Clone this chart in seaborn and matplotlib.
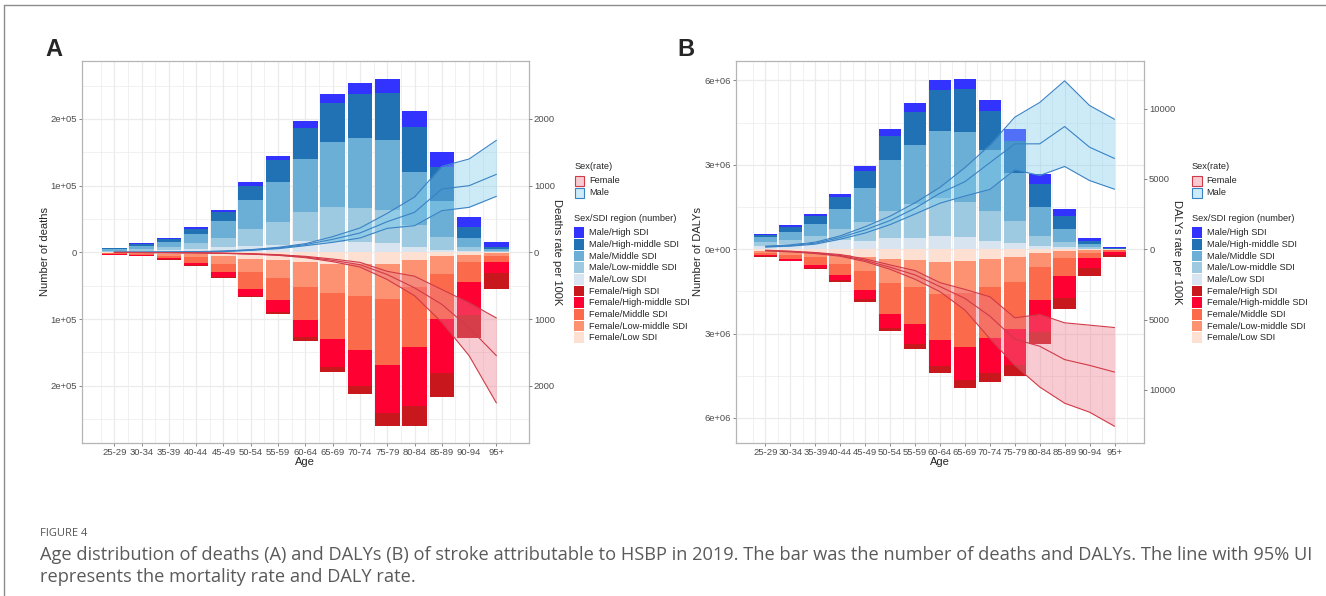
import matplotlib
matplotlib.use("Agg")
import numpy as np
import matplotlib.pyplot as plt
from matplotlib import font_manager
from matplotlib.colors import to_rgb
from matplotlib.patches import Rectangle
from matplotlib.lines import Line2D
import seaborn as sns

# ---------------------------------------------------------------- data
AGES = ["25-29", "30-34", "35-39", "40-44", "45-49", "50-54", "55-59", "60-64",
        "65-69", "70-74", "75-79", "80-84", "85-89", "90-94", "95+"]
SDI_ORDER = ["Low SDI", "Low-middle SDI", "Middle SDI", "High-middle SDI", "High SDI"]

# Panel A: deaths (thousands) by SDI region
deaths_male_low = [1.0, 2.0, 3.0, 5.0, 8.0, 10.0, 11.5, 16.5, 15.0, 15.0, 14.5, 8.0, 4.0, 2.0, 0.5]
deaths_male_lowmid = [1.5, 3.5, 4.5, 9.0, 13.5, 25.0, 34.5, 44.5, 53.5, 52.0, 48.5, 32.5, 19.5, 6.0, 1.5]
deaths_male_mid = [2.5, 4.5, 7.5, 14.0, 25.0, 43.0, 59.5, 79.0, 96.5, 104.5, 105.5, 80.5, 53.0, 13.5, 2.5]
deaths_male_highmid = [1.2, 2.5, 4.5, 7.0, 14.5, 21.0, 32.5, 47.0, 59.0, 66.5, 70.5, 67.0, 51.0, 16.5, 3.5]
deaths_male_high = [0.8, 1.0, 2.0, 3.0, 2.5, 6.0, 6.5, 9.5, 13.0, 16.0, 21.5, 24.0, 23.5, 15.0, 7.0]

deaths_female_low = [0.5, 1.0, 2.0, 2.0, 5.0, 9.5, 11.5, 15.0, 18.0, 18.0, 18.0, 12.0, 6.0, 3.5, 1.5]
deaths_female_lowmid = [0.8, 1.5, 3.0, 5.0, 12.0, 20.5, 26.5, 37.5, 43.5, 47.0, 52.5, 40.0, 26.0, 10.5, 3.5]
deaths_female_mid = [1.2, 2.0, 4.0, 9.0, 13.0, 24.5, 34.0, 49.0, 69.0, 82.0, 98.5, 90.0, 68.5, 30.0, 9.0]
deaths_female_highmid = [0.8, 1.2, 1.6, 3.5, 7.0, 11.5, 18.0, 26.0, 41.5, 53.5, 72.0, 88.5, 81.0, 50.0, 17.0]
deaths_female_high = [0.2, 0.3, 0.4, 1.0, 1.0, 1.5, 2.5, 6.0, 7.5, 12.0, 19.0, 29.5, 36.0, 34.5, 23.5]

# Panel A: death rate per 100K (lower, mean, upper)
death_rate_male_lower = [0.7, 1.5, 3, 6, 12, 30, 55, 100, 150, 215, 360, 400, 625, 675, 840]
death_rate_male_mean = [1, 2, 4, 8, 16, 35, 65, 115, 195, 290, 460, 600, 950, 1000, 1170]
death_rate_male_upper = [1.5, 3, 5, 10, 20, 40, 75, 130, 235, 365, 585, 830, 1290, 1400, 1680]
death_rate_female_lower = [1.8, 3.5, 6, 9, 16, 27, 45, 80, 140, 220, 408, 650, 1050, 1550, 2260]
death_rate_female_mean = [1.5, 3, 5, 8, 14, 23, 40, 70, 120, 185, 333, 532, 780, 1130, 1550]
death_rate_female_upper = [1.2, 2.5, 4, 7, 12, 20, 35, 60, 100, 150, 285, 358, 557, 756, 985]

# Panel B: DALYs (millions) by SDI region
dalys_male_low = [0.12, 0.178, 0.26, 0.33, 0.308, 0.391, 0.415, 0.486, 0.427, 0.296, 0.225, 0.13, 0.06, 0.024, 0.004]
dalys_male_lowmid = [0.12, 0.154, 0.21, 0.38, 0.652, 0.984, 1.198, 1.34, 1.257, 1.067, 0.77, 0.356, 0.178, 0.036, 0.008]
dalys_male_mid = [0.178, 0.296, 0.44, 0.71, 1.198, 1.779, 2.087, 2.37, 2.478, 2.158, 1.72, 1.008, 0.474, 0.107, 0.012]
dalys_male_highmid = [0.083, 0.178, 0.285, 0.427, 0.617, 0.877, 1.174, 1.47, 1.53, 1.376, 1.138, 0.818, 0.474, 0.107, 0.024]
dalys_male_high = [0.047, 0.047, 0.06, 0.107, 0.166, 0.237, 0.308, 0.356, 0.368, 0.403, 0.427, 0.344, 0.225, 0.119, 0.036]

dalys_female_low = [0.06, 0.083, 0.143, 0.2, 0.26, 0.357, 0.393, 0.44, 0.417, 0.345, 0.286, 0.143, 0.071, 0.036, 0.012]
dalys_female_lowmid = [0.06, 0.107, 0.143, 0.32, 0.52, 0.833, 0.94, 1.167, 1.143, 1.012, 0.869, 0.488, 0.226, 0.083, 0.024]
dalys_female_mid = [0.07, 0.155, 0.262, 0.39, 0.68, 1.107, 1.333, 1.607, 1.917, 1.81, 1.69, 1.167, 0.655, 0.19, 0.048]
dalys_female_highmid = [0.06, 0.071, 0.119, 0.18, 0.32, 0.488, 0.702, 0.94, 1.19, 1.238, 1.262, 1.155, 0.774, 0.369, 0.107]
dalys_female_high = [0.01, 0.012, 0.036, 0.07, 0.107, 0.131, 0.19, 0.238, 0.274, 0.333, 0.417, 0.429, 0.405, 0.274, 0.095]

# Panel B: DALY rate per 100K (lower, mean, upper)
daly_rate_male_lower = [150, 215, 360, 710, 1150, 1750, 2500, 3270, 3780, 4250, 5640, 5240, 5880, 4880, 4265]
daly_rate_male_mean = [180, 260, 430, 830, 1375, 2040, 2915, 3980, 4800, 6150, 7490, 7490, 8720, 7250, 6450]
daly_rate_male_upper = [210, 310, 500, 950, 1600, 2350, 3300, 4400, 5800, 7400, 9385, 10430, 11970, 10215, 9240]
daly_rate_female_lower = [120, 190, 310, 500, 880, 1430, 2140, 3020, 4330, 6360, 8260, 9800, 10950, 11590, 12590]
daly_rate_female_mean = [95, 165, 260, 450, 790, 1285, 1830, 2660, 3500, 4760, 6400, 6900, 7850, 8260, 8735]
daly_rate_female_upper = [70, 140, 240, 380, 690, 1120, 1520, 2380, 2860, 3380, 4880, 4640, 5235, 5400, 5570]

# ---------------------------------------------------------------- styling
MALE_COLORS = {"High SDI": "#3333FF", "High-middle SDI": "#2171B5", "Middle SDI": "#6BAED6",
               "Low-middle SDI": "#9ECAE1", "Low SDI": "#D8E5F1"}
FEMALE_COLORS = {"High SDI": "#C9171E", "High-middle SDI": "#FF0033", "Middle SDI": "#FB6A4A",
                 "Low-middle SDI": "#FC9272", "Low SDI": "#FEE0D2"}
RIBBON_M, RIBBON_F = "#82CDED", "#EB7D8C"
RIBBON_ALPHA = 0.4
LINE_M, LINE_F = "#3A82C4", "#D13A48"
GRID = "#EBEBEB"
BORDER = "#B5B5B5"
TICK_TXT = "#4D4D4D"

sns.set_theme(style="white")
plt.rcParams["font.family"] = ["Liberation Sans", "DejaVu Sans"]

W, H = 1326, 596
fig = plt.figure(figsize=(W / 100, H / 100), dpi=100)


def fx(px):
    return px / W


def fy(py):
    return 1 - py / H


def on_white(color, alpha):
    r, g, b = to_rgb(color)
    return (1 - alpha + alpha * r, 1 - alpha + alpha * g, 1 - alpha + alpha * b)


def stack(ax, x, layers, colors, sign):
    base = np.zeros(len(x))
    for lvl in SDI_ORDER:
        vals = sign * np.asarray(layers[lvl], float)
        ax.bar(x, vals, bottom=base, width=0.9, color=colors[lvl], linewidth=0, zorder=2)
        base = base + vals


def rate_band(ax2, x, lower, mean, upper, sign, fill, line):
    lo, mi, hi = (sign * np.asarray(v, float) for v in (lower, mean, upper))
    ax2.fill_between(x, lo, hi, color=fill, alpha=RIBBON_ALPHA, linewidth=0, zorder=1)
    for v in (lo, mi, hi):
        sns.lineplot(x=x, y=v, ax=ax2, color=line, linewidth=0.8, legend=False, zorder=3)


def draw_panel(ax, male, female, unit, rates_m, rates_f, factor, ylim,
               lticks, llabels, rticks, minor_y, ylabel, rlabel, lab_x, rlab_x):
    x = np.arange(len(AGES))
    stack(ax, x, {k: np.asarray(v) * unit for k, v in male.items()}, MALE_COLORS, 1)
    stack(ax, x, {k: np.asarray(v) * unit for k, v in female.items()}, FEMALE_COLORS, -1)

    ax.set_xlim(-1.195, len(AGES) - 1 + 1.195)
    ax.set_ylim(*ylim)
    ax.set_xticks(x)
    ax.set_xticklabels(AGES)
    ax.set_xticks(np.arange(-0.5, len(AGES), 1.0), minor=True)
    ax.set_yticks(lticks)
    ax.set_yticklabels(llabels)
    ax.set_yticks(minor_y, minor=True)
    ax.set_axisbelow(True)
    ax.grid(which="major", color=GRID, linewidth=0.9)
    ax.grid(which="minor", color=GRID, linewidth=0.5)
    for sp in ax.spines.values():
        sp.set_color(BORDER)
        sp.set_linewidth(0.9)
    ax.tick_params(which="major", bottom=True, left=True, length=2.5, width=0.5,
                   color="#555555", labelsize=6.8, labelcolor=TICK_TXT, pad=0.8)
    ax.tick_params(which="minor", length=0)
    ax.set_xlabel("Age", fontsize=8)
    ax.xaxis.set_label_coords(0.5, -0.05)
    ax.xaxis.label.set_va("center")
    ax.set_ylabel(ylabel, fontsize=8)
    ax.yaxis.set_label_coords(lab_x, 0.5)
    ax.yaxis.label.set_va("center")

    ax2 = ax.twinx()
    ax2.set_ylim(ylim[0] / factor, ylim[1] / factor)
    rate_band(ax2, x, *rates_m, 1, RIBBON_M, LINE_M)
    rate_band(ax2, x, *rates_f, -1, RIBBON_F, LINE_F)
    ax2.grid(False)
    for sp in ax2.spines.values():
        sp.set_visible(False)
    ax2.set_yticks(rticks)
    ax2.set_yticklabels([f"{abs(int(t))}" for t in rticks])
    ax2.tick_params(right=True, left=False, length=2.5, width=0.5, color="#555555",
                    labelsize=6.8, labelcolor=TICK_TXT, pad=1.0)
    ax2.set_ylabel(rlabel, fontsize=8, rotation=270)
    ax2.yaxis.set_label_coords(rlab_x, 0.5)
    ax2.yaxis.label.set_va("center")
    return ax2


def draw_legend(x_key):
    fs = 6.7
    x_txt = x_key + 15
    fig.text(fx(x_key), fy(166.7), "Sex(rate)", fontsize=fs, va="center", ha="left")
    for yc, lab, fc, ec in [(181.0, "Female", RIBBON_F, LINE_F), (192.7, "Male", RIBBON_M, LINE_M)]:
        fig.add_artist(Rectangle((fx(x_key + 0.5), fy(yc + 5.0)), 9.5 / W, 10.0 / H,
                                 transform=fig.transFigure, facecolor=on_white(fc, RIBBON_ALPHA),
                                 edgecolor=ec, linewidth=0.8))
        fig.text(fx(x_txt), fy(yc), lab, fontsize=fs, va="center", ha="left")
    fig.text(fx(x_key), fy(218.3), "Sex/SDI region (number)", fontsize=fs, va="center", ha="left")
    items = [(f"Male/{lvl}", MALE_COLORS[lvl]) for lvl in SDI_ORDER[::-1]] + \
            [(f"Female/{lvl}", FEMALE_COLORS[lvl]) for lvl in SDI_ORDER[::-1]]
    for i, (lab, col) in enumerate(items):
        yc = 232.7 + 11.67 * i
        fig.add_artist(Rectangle((fx(x_key), fy(yc + 5.4)), 10 / W, 10.8 / H,
                                 transform=fig.transFigure, facecolor=col, edgecolor="none"))
        fig.text(fx(x_txt), fy(yc), lab, fontsize=fs, va="center", ha="left")


# ---------------------------------------------------------------- panels
axA = fig.add_axes([fx(81.7), fy(443), (529 - 81.7) / W, (443 - 61) / H])
axB = fig.add_axes([fx(735.7), fy(443), (1144.3 - 735.7) / W, (443 - 61) / H])

draw_panel(
    axA,
    {"Low SDI": deaths_male_low, "Low-middle SDI": deaths_male_lowmid, "Middle SDI": deaths_male_mid,
     "High-middle SDI": deaths_male_highmid, "High SDI": deaths_male_high},
    {"Low SDI": deaths_female_low, "Low-middle SDI": deaths_female_lowmid, "Middle SDI": deaths_female_mid,
     "High-middle SDI": deaths_female_highmid, "High SDI": deaths_female_high},
    1e3,
    (death_rate_male_lower, death_rate_male_mean, death_rate_male_upper),
    (death_rate_female_lower, death_rate_female_mean, death_rate_female_upper),
    100, (-2.86e5, 2.87e5),
    [-2e5, -1e5, 0, 1e5, 2e5], ["2e+05", "1e+05", "0", "1e+05", "2e+05"],
    [-2000, -1000, 0, 1000, 2000],
    [-2.5e5, -1.5e5, -0.5e5, 0.5e5, 1.5e5, 2.5e5],
    "Number of deaths", "Deaths rate per 100K", -0.082, 1.062,
)

draw_panel(
    axB,
    {"Low SDI": dalys_male_low, "Low-middle SDI": dalys_male_lowmid, "Middle SDI": dalys_male_mid,
     "High-middle SDI": dalys_male_highmid, "High SDI": dalys_male_high},
    {"Low SDI": dalys_female_low, "Low-middle SDI": dalys_female_lowmid, "Middle SDI": dalys_female_mid,
     "High-middle SDI": dalys_female_highmid, "High SDI": dalys_female_high},
    1e6,
    (daly_rate_male_lower, daly_rate_male_mean, daly_rate_male_upper),
    (daly_rate_female_lower, daly_rate_female_mean, daly_rate_female_upper),
    500, (-6.89e6, 6.69e6),
    [-6e6, -3e6, 0, 3e6, 6e6], ["6e+06", "3e+06", "0e+00", "3e+06", "6e+06"],
    [-10000, -5000, 0, 5000, 10000],
    [-4.5e6, -1.5e6, 1.5e6, 4.5e6],
    "Number of DALYs", "DALYs rate per 100K", -0.093, 1.079,
)

draw_legend(574.3)
draw_legend(1191.7)

# panel letters
fig.text(fx(54), fy(50), "A", fontsize=17, fontweight="bold", ha="center", va="center")
fig.text(fx(686), fy(50), "B", fontsize=17, fontweight="bold", ha="center", va="center")

# figure frame (top and left rules)
fig.add_artist(Line2D([fx(4), 1.0], [fy(5), fy(5)], transform=fig.transFigure, color="#8C8C8C", linewidth=1))
fig.add_artist(Line2D([fx(4), fx(4)], [fy(5), 0.0], transform=fig.transFigure, color="#8C8C8C", linewidth=1))

# caption, in a narrow face when one is installed, fitted to the text column
installed = {f.name for f in font_manager.fontManager.ttflist}
cap_family = "Liberation Sans Narrow" if "Liberation Sans Narrow" in installed else "Open Sans"
cap_font = [cap_family, "DejaVu Sans"]
fig.text(fx(40), fy(533), "FIGURE 4", fontsize=8, color="#555555", ha="left", va="center", family=cap_font)
line1 = fig.text(fx(40), fy(555),
                 "Age distribution of deaths (A) and DALYs (B) of stroke attributable to HSBP in 2019. "
                 "The bar was the number of deaths and DALYs. The line with 95% UI",
                 fontsize=11, color="#5A5A5A", ha="left", va="center", family=cap_font)
line2 = fig.text(fx(40), fy(577), "represents the mortality rate and DALY rate.",
                 fontsize=11, color="#5A5A5A", ha="left", va="center", family=cap_font)
fig.canvas.draw()
scale = (1314 - 40) / line1.get_window_extent().width
line1.set_fontsize(11 * scale)
line2.set_fontsize(11 * scale)

fig.savefig("out.png", dpi=100)
